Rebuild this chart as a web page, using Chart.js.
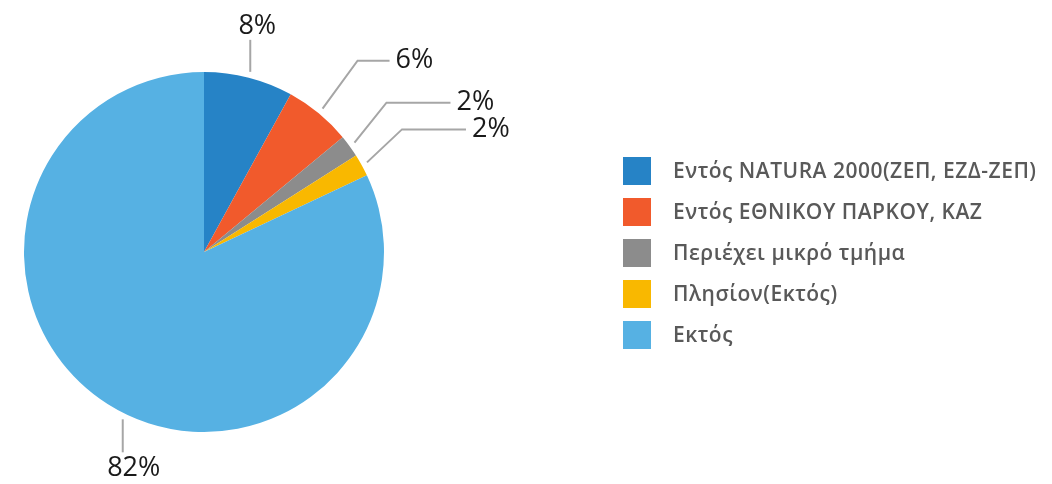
<!DOCTYPE html>
<html>
<head>
<meta charset="utf-8">
<script src="https://cdn.jsdelivr.net/npm/chart.js@4"></script>
<style>
  html, body { margin: 0; padding: 0; background: #fff; }
  #wrap { position: relative; width: 1052px; height: 484px; }
</style>
</head>
<body>
<div id="wrap"><canvas id="areaPie" width="1052" height="484"></canvas></div>
<script>
// Data
const categories = [
    'Εντός NATURA 2000(ΖΕΠ, ΕΖΔ-ΖΕΠ)',
    'Εντός ΕΘΝΙΚΟΥ ΠΑΡΚΟΥ, ΚΑΖ',
    'Περιέχει μικρό τμήμα',
    'Πλησίον(Εκτός)',
    'Εκτός'
];
const shares = [8, 6, 2, 2, 82];
const sliceColors = ['#2683c6', '#f15a2c', '#8c8c8c', '#f9b800', '#56b1e3'];

// Leader line layout per slice: where on the arc to start (fraction of the slice),
// elbow offset from the start, horizontal run after the elbow, text nudge
const leaders = [
    { at: 0.5,   elbow: [0, -32],  run: 0,  align: 'center', dx: 7 },
    { at: 0.5,   elbow: [35, -48], run: 32, align: 'left',   dx: 6 },
    { at: 0.5,   elbow: [32, -40], run: 64, align: 'left',   dx: 6 },
    { at: 0.5,   elbow: [35, -33], run: 64, align: 'left',   dx: 6 },
    { at: 0.478, elbow: [0, 33],   run: 0,  align: 'center', dx: 11 }
];

const labelFont = '400 27px "Open Sans"';
const legendFont = '600 21px "Open Sans"';

// Percent labels with grey leader lines
const leaderLabels = {
    id: 'leaderLabels',
    afterDatasetsDraw(chart) {
        const ctx = chart.ctx;
        const arcs = chart.getDatasetMeta(0).data;
        ctx.save();
        arcs.forEach((arc, i) => {
            const l = leaders[i];
            const a = arc.startAngle + (arc.endAngle - arc.startAngle) * l.at;
            const r = arc.outerRadius + 6;
            const x0 = arc.x + Math.cos(a) * r;
            const y0 = arc.y + Math.sin(a) * r;
            const x1 = x0 + l.elbow[0];
            const y1 = y0 + l.elbow[1];
            const x2 = x1 + l.run;
            ctx.strokeStyle = '#a6a6a6';
            ctx.lineWidth = 2;
            ctx.beginPath();
            ctx.moveTo(x0, y0);
            ctx.lineTo(x1, y1);
            if (l.run) ctx.lineTo(x2, y1);
            ctx.stroke();

            ctx.fillStyle = '#1a1a1a';
            ctx.font = labelFont;
            const txt = shares[i] + '%';
            if (l.align === 'center') {
                ctx.textAlign = 'center';
                ctx.textBaseline = 'alphabetic';
                if (l.elbow[1] < 0) {
                    ctx.fillText(txt, x1 + l.dx, y1 - 6);
                } else {
                    ctx.fillText(txt, x1 + l.dx, y1 + 24);
                }
            } else {
                ctx.textAlign = 'left';
                ctx.textBaseline = 'middle';
                ctx.fillText(txt, x2 + l.dx, y1);
            }
        });
        ctx.restore();
    }
};

// Legend drawn to the right of the pie
const sideLegend = {
    id: 'sideLegend',
    afterDraw(chart) {
        const ctx = chart.ctx;
        const left = 623, top = 157, box = 28, gap = 41;
        ctx.save();
        ctx.font = legendFont;
        ctx.letterSpacing = '0.5px';
        ctx.textAlign = 'left';
        ctx.textBaseline = 'middle';
        chart.data.labels.forEach((lab, i) => {
            const y = top + i * gap;
            ctx.fillStyle = chart.data.datasets[0].backgroundColor[i];
            ctx.fillRect(left, y, box, box);
            ctx.fillStyle = '#595959';
            ctx.fillText(lab, 673, y + box / 2 + 1);
        });
        ctx.restore();
    }
};

const ctx = document.getElementById('areaPie').getContext('2d');
new Chart(ctx, {
    type: 'pie',
    data: {
        labels: categories,
        datasets: [{
            data: shares,
            backgroundColor: sliceColors,
            borderWidth: 0
        }]
    },
    options: {
        responsive: false,
        animation: false,
        layout: { padding: { left: 24, right: 668, top: 72, bottom: 52 } },
        plugins: {
            legend: { display: false },
            tooltip: { enabled: false }
        }
    },
    plugins: [leaderLabels, sideLegend]
});
</script>
</body>
</html>
